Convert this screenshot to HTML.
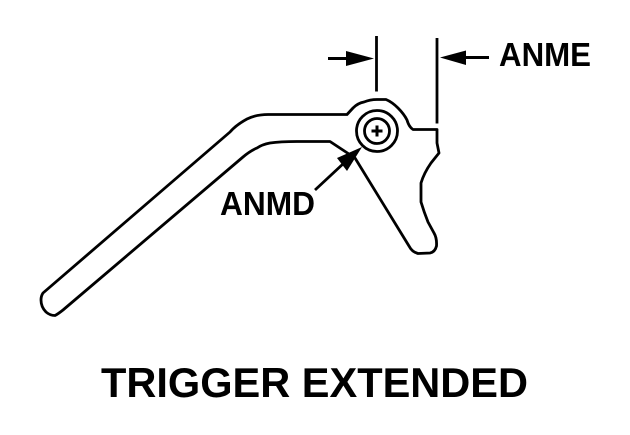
<!DOCTYPE html>
<html>
<head>
<meta charset="utf-8">
<style>
html,body{margin:0;padding:0;background:#fff;}
svg{display:block;}
text{font-family:"Liberation Sans",Arial,sans-serif;font-weight:bold;fill:#000;}
</style>
</head>
<body>
<svg width="630" height="435" viewBox="0 0 630 435" xmlns="http://www.w3.org/2000/svg">
<rect width="630" height="435" fill="#fff"/>
<path d="M268 114.500 L347 114.500 L353 108 Q358 103 364 102 Q370 99.500 377 99.500 L386 99.500 Q392 102 398 108 Q404 114 407 120 Q409 127 413 129.500 L437 129.500 L437 143 L439 153 L431 163 Q424 173 421 183 L421 202 Q424 212 428 222 L434 233 Q437 238 436.500 246 Q435 252 430 253 L418 253.500 Q412 252 409 246 L355 158 L330 141.500 L297 141.500 Q280 141.500 270 143 Q262 144.500 257 148 Q250 151 243 157 L63 310 Q58 314 55 315.500 Q50 315.500 46 312 Q41 307 41 300 Q41 296 43 293 L230 132 Q236 125 247 119 Q256 114.500 268 114.500 Z" fill="#fff" stroke="#000" stroke-width="2.800" stroke-linejoin="round"/>
<circle cx="377" cy="131" r="20.500" fill="#fff" stroke="#000" stroke-width="2.800"/>
<circle cx="377" cy="131" r="12.500" fill="#fff" stroke="#000" stroke-width="2.800"/>
<path d="M371.500 131 H382.500 M377 125.500 V136.500" stroke="#000" stroke-width="3" fill="none"/>
<path d="M376.500 36 V91.500" stroke="#000" stroke-width="2.800" fill="none"/>
<path d="M437 38 V123.500" stroke="#000" stroke-width="2.800" fill="none"/>
<path d="M328 58.500 H350" stroke="#000" stroke-width="3" fill="none"/>
<path d="M346 51 L374 58.500 L346 66 Z" fill="#000"/>
<path d="M466 57.500 H489" stroke="#000" stroke-width="3" fill="none"/>
<path d="M440 57.500 L466 50.500 L466 65 Z" fill="#000"/>
<path d="M344 163 L315 190" stroke="#000" stroke-width="2.800" fill="none"/>
<path d="M362 147 L337 158 L347 171 Z" fill="#000"/>
<text x="499" y="66" font-size="33" textLength="92" lengthAdjust="spacingAndGlyphs">ANME</text>
<text x="220" y="215" font-size="33" textLength="95" lengthAdjust="spacingAndGlyphs">ANMD</text>
<text x="101" y="397" font-size="42" textLength="427" lengthAdjust="spacingAndGlyphs">TRIGGER EXTENDED</text>
</svg>
</body>
</html>
